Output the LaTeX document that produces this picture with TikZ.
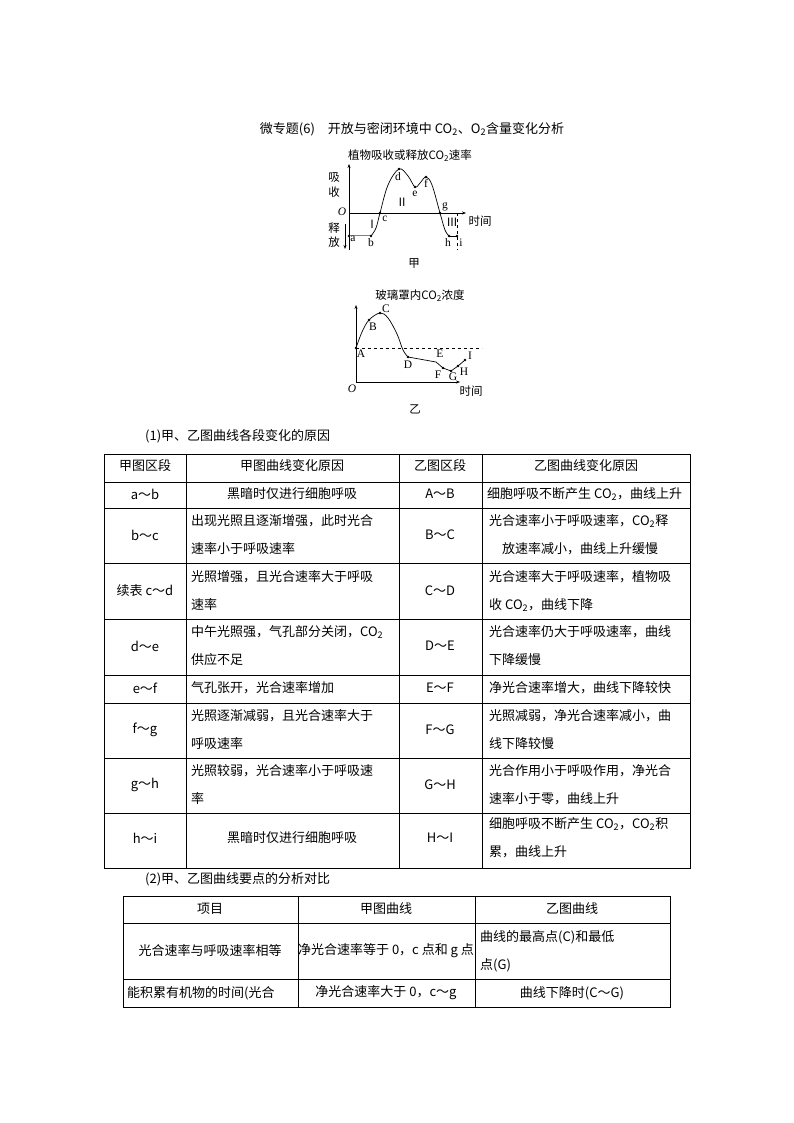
\documentclass[tikz,border=0pt]{standalone}
\usepackage{fontspec}
\setmainfont{Noto Sans CJK SC}
\newfontfamily\lat{Liberation Serif}
\usetikzlibrary{arrows.meta}
\tikzset{
 tx/.style={font=\fontsize{13}{14}\selectfont, inner sep=0pt},
 lt/.style={tx, anchor=west},
 gl/.style={font=\lat\fontsize{11.5}{13}\selectfont, inner sep=0pt},
 gc/.style={font=\fontsize{11.5}{13}\selectfont, inner sep=0pt},
 tbl/.style={line width=0.8pt},
 dot/.style={circle, fill, inner sep=0pt, minimum size=2.6pt},
 ax/.style={line width=0.6pt, -{Stealth[length=4pt,width=3pt]}}
}
\newcommand{\cotwo}{CO\textsubscript{2}}
\begin{document}
\begin{tikzpicture}[x=1pt,y=-1pt]
\useasboundingbox[fill=white] (0,0) rectangle (794,1123);
% title
\node[tx] (title) at (412,129) {微专题(6)\quad 开放与密闭环境中 \cotwo、O\textsubscript{2}含量变化分析};
% ---------- graph jia ----------
\node[gc] (t1) at (410,156) {植物吸收或释放\cotwo 速率};
\draw[ax] (349,250) -- (349,164);
\draw[ax] (349,213) -- (466,213);
\draw[line width=0.6pt,-{Stealth[length=4pt,width=3pt]}] (345,224) -- (345,249);
\node[gc] (xi) at (334,178) {吸};
\node[gc] (sh) at (334,192) {收};
\node[gc] (shi) at (334,228) {释};
\node[gc] (fa) at (334,242) {放};
\node[gl,font=\lat\itshape\fontsize{11.5}{13}\selectfont] (O1) at (342,212) {O};
\node[gc] (time1) at (480,221) {时间};
\coordinate (a) at (349,236); \coordinate (b) at (371,236);
\coordinate (c) at (380,213); \coordinate (d) at (399,169);
\coordinate (e) at (415,187); \coordinate (f) at (426,177);
\coordinate (g) at (440,213); \coordinate (h) at (449,236);
\coordinate (i) at (457,236);
\draw[gray, line width=1pt] (a) -- (b);
\draw[line width=0.7pt] plot[smooth, tension=0.6] coordinates {(371,236) (376,228) (380,213) (388,185) (399,169) (408,176) (415,187) (420,183) (426,177) (432,185) (440,213) (445,230) (449,236)};
\draw[line width=0.7pt] (h) -- (i);
\draw[dashed, line width=0.6pt] (457,213) -- (457,250);
\foreach \p in {a,b,c,d,e,f,g,h,i} \node[dot] (pt\p) at (\p) {};
\node[gl] (la) at (353,239) {a};
\node[gl] (lb) at (371,243) {b};
\node[gl] (lc) at (385,219) {c};
\node[gl] (ld) at (398,177) {d};
\node[gl] (le) at (415,194) {e};
\node[gl] (lf) at (426,183) {f};
\node[gl] (lg) at (445,207) {g};
\node[gl] (lh) at (448,243) {h};
\node[gl] (li) at (461,243) {i};
\node[gc] (r1) at (372,224) {Ⅰ};
\node[gc] (r2) at (402,202) {Ⅱ};
\node[gc] (r3) at (452,222) {Ⅲ};
\node[gc] (jia) at (414,263) {甲};
% ---------- graph yi ----------
\node[gc] (t2) at (420,296) {玻璃罩内\cotwo 浓度};
\draw[ax] (356,382) -- (356,305);
\draw[ax] (356,382) -- (460,382);
\draw[dashed, line width=0.6pt] (356,348) -- (482,348);
\coordinate (A) at (356,348); \coordinate (B) at (369,320);
\coordinate (C) at (380,313); \coordinate (D) at (408,357);
\coordinate (E) at (436,362); \coordinate (F) at (443,368);
\coordinate (G) at (451,371); \coordinate (H) at (458,366);
\coordinate (I) at (465,360);
\draw[line width=0.7pt] plot[smooth, tension=0.6] coordinates {(356,348) (362,332) (369,320) (380,313) (388,318) (397,334) (403,350) (408,357)};
\draw[line width=0.7pt] (D) -- (E) -- (F) -- (G) -- (H) -- (I);
\foreach \p in {A,B,C,D,F,G,H,I} \node[dot] (pt\p) at (\p) {};
\node[gl] (lA) at (361,354) {A};
\node[gl] (lB) at (373,327) {B};
\node[gl] (lC) at (386,309) {C};
\node[gl] (lD) at (408,365) {D};
\node[gl] (lE) at (440,354) {E};
\node[gl] (lF) at (438,375) {F};
\node[gl] (lG) at (453,377) {G};
\node[gl] (lH) at (464,372) {H};
\node[gl] (lI) at (470,356) {I};
\node[gl,font=\lat\itshape\fontsize{11.5}{13}\selectfont] (O2) at (352,389) {O};
\node[gc] (time2) at (471,391) {时间};
\node[gc] (yi) at (415,409) {乙};
% ---------- table 1 ----------
\node[lt] (h1) at (145,436) {(1)甲、乙图曲线各段变化的原因};
\draw[tbl] (104,454) rectangle (690,868);
\foreach \yy in {482,508,563,619,675,703,758,813} \draw[tbl] (104,\yy) -- (690,\yy);
\foreach \xx in {186,399,482} \draw[tbl] (\xx,454) -- (\xx,868);
\node[tx] (c11) at (145,466) {甲图区段};
\node[tx] (c12) at (292,466) {甲图曲线变化原因};
\node[tx] (c13) at (440,466) {乙图区段};
\node[tx] (c14) at (586,466) {乙图曲线变化原因};
% rows
\node[tx] (r1a) at (145,494) {a～b};
\node[tx] (r1b) at (292,494) {黑暗时仅进行细胞呼吸};
\node[tx] (r1c) at (440,494) {A～B};
\begin{scope}
\clip (482,482) rectangle (689,508);
\node[lt] (r1d) at (487,494) {细胞呼吸不断产生 \cotwo，曲线上升};
\end{scope}
\node[tx] (r2a) at (145,535) {b～c};
\node[lt] (r2b1) at (191,521) {出现光照且逐渐增强，此时光合};
\node[lt] (r2b2) at (191,549) {速率小于呼吸速率};
\node[tx] (r2c) at (440,535) {B～C};
\node[lt] (r2d1) at (489,521) {光合速率小于呼吸速率，\cotwo 释};
\node[lt] (r2d2) at (502,549) {放速率减小，曲线上升缓慢};
\node[tx] (r3a) at (145,591) {续表 c～d};
\node[lt] (r3b1) at (191,577) {光照增强，且光合速率大于呼吸};
\node[lt] (r3b2) at (191,605) {速率};
\node[tx] (r3c) at (440,591) {C～D};
\node[lt] (r3d1) at (489,577) {光合速率大于呼吸速率，植物吸};
\node[lt] (r3d2) at (489,605) {收 \cotwo，曲线下降};
\node[tx] (r4a) at (145,646) {d～e};
\node[lt] (r4b1) at (191,632) {中午光照强，气孔部分关闭，\cotwo};
\node[lt] (r4b2) at (191,660) {供应不足};
\node[tx] (r4c) at (440,646) {D～E};
\node[lt] (r4d1) at (489,632) {光合速率仍大于呼吸速率，曲线};
\node[lt] (r4d2) at (489,660) {下降缓慢};
\node[tx] (r5a) at (145,688) {e～f};
\node[lt] (r5b) at (191,688) {气孔张开，光合速率增加};
\node[tx] (r5c) at (440,688) {E～F};
\node[lt] (r5d) at (489,688) {净光合速率增大，曲线下降较快};
\node[tx] (r6a) at (145,730) {f～g};
\node[lt] (r6b1) at (191,716) {光照逐渐减弱，且光合速率大于};
\node[lt] (r6b2) at (191,744) {呼吸速率};
\node[tx] (r6c) at (440,730) {F～G};
\node[lt] (r6d1) at (489,716) {光照减弱，净光合速率减小，曲};
\node[lt] (r6d2) at (489,744) {线下降较慢};
\node[tx] (r7a) at (145,785) {g～h};
\node[lt] (r7b1) at (191,771) {光照较弱，光合速率小于呼吸速};
\node[lt] (r7b2) at (191,799) {率};
\node[tx] (r7c) at (440,785) {G～H};
\node[lt] (r7d1) at (489,771) {光合作用小于呼吸作用，净光合};
\node[lt] (r7d2) at (489,799) {速率小于零，曲线上升};
\node[tx] (r8a) at (145,838) {h～i};
\node[tx] (r8b) at (292,838) {黑暗时仅进行细胞呼吸};
\node[tx] (r8c) at (440,838) {H～I};
\node[lt] (r8d1) at (489,824) {细胞呼吸不断产生 \cotwo，\cotwo 积};
\node[lt] (r8d2) at (489,852) {累，曲线上升};
% ---------- table 2 ----------
\node[lt] (h2) at (145,879) {(2)甲、乙图曲线要点的分析对比};
\draw[tbl] (123,896) rectangle (670,1007);
\foreach \yy in {923,979} \draw[tbl] (123,\yy) -- (670,\yy);
\foreach \xx in {298,475} \draw[tbl] (\xx,896) -- (\xx,1007);
\node[tx] (s11) at (210,909) {项目};
\node[tx] (s12) at (386,909) {甲图曲线};
\node[tx] (s13) at (572,909) {乙图曲线};
\node[tx] (s21) at (210,951) {光合速率与呼吸速率相等};
\node[tx] (s22) at (386,951) {净光合速率等于 0，c 点和 g 点};
\node[lt] (s231) at (480,937) {曲线的最高点(C)和最低};
\node[lt] (s232) at (480,965) {点(G)};
\node[lt] (s31) at (127,993) {能积累有机物的时间(光合};
\node[tx] (s32) at (386,993) {净光合速率大于 0，c～g};
\node[tx] (s33) at (572,993) {曲线下降时(C～G)};
\end{tikzpicture}
\end{document}
